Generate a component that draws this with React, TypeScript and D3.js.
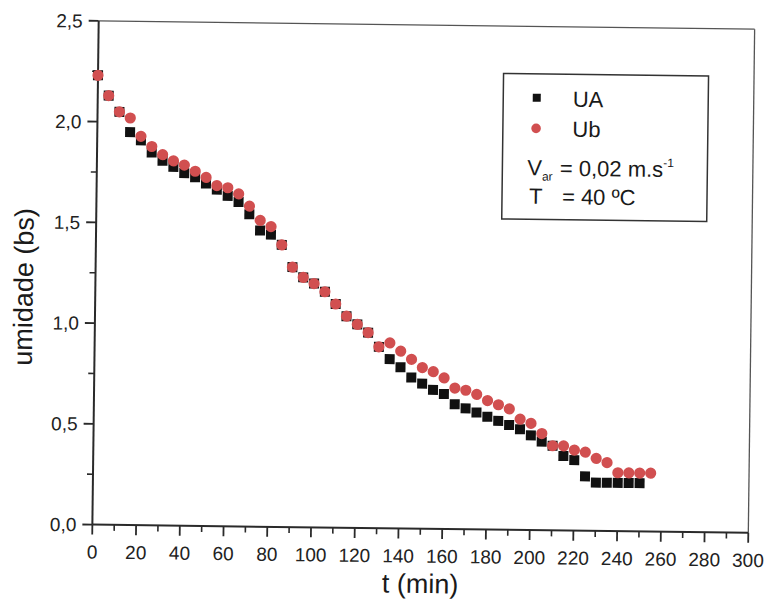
import React from "react";
import * as d3 from "d3";

const timesUA = [0,5,10,15,20,25,30,35,40,45,50,55,60,65,70,75,80,85,90,95,100,105,110,115,120,125,130,135,140,145,150,155,160,165,170,175,180,185,190,195,200,205,210,215,220,225,230,235,240,245,250];
const valuesUA = [2.23,2.13,2.05,1.95,1.91,1.85,1.81,1.78,1.75,1.73,1.70,1.67,1.64,1.61,1.55,1.47,1.45,1.40,1.29,1.24,1.21,1.17,1.11,1.05,1.01,0.97,0.90,0.84,0.80,0.75,0.72,0.69,0.67,0.62,0.60,0.58,0.56,0.54,0.52,0.50,0.47,0.44,0.42,0.37,0.35,0.27,0.24,0.24,0.24,0.24,0.24];
const timesUb = [0,5,10,15,20,25,30,35,40,45,50,55,60,65,70,75,80,85,90,95,100,105,110,115,120,125,130,135,140,145,150,155,160,165,170,175,180,185,190,195,200,205,210,215,220,225,230,235,240,245,250,255];
const valuesUb = [2.23,2.13,2.05,2.02,1.93,1.88,1.84,1.81,1.79,1.76,1.73,1.69,1.68,1.65,1.59,1.52,1.49,1.40,1.29,1.24,1.21,1.17,1.11,1.05,1.01,0.97,0.90,0.92,0.88,0.84,0.80,0.78,0.75,0.70,0.69,0.67,0.64,0.62,0.60,0.55,0.53,0.48,0.42,0.42,0.40,0.39,0.36,0.34,0.29,0.29,0.29,0.29];

const xMajorTicks = [0,20,40,60,80,100,120,140,160,180,200,220,240,260,280,300];
const xMinorTicks = [10,30,50,70,90,110,130,150,170,190,210,230,250,270,290];
const yMajorTicks = [0,0.5,1.0,1.5,2.0,2.5];
const yMinorTicks = [0.25,0.75,1.25,1.75,2.25];

const xTitle = "t (min)";
const yTitle = "umidade (bs)";
const seriesNames = ["UA", "Ub"];

const W = 769, H = 614;
const L = 95.5, R = 751.5, T = 25, B = 528.75;
const FONT = "'Liberation Sans', Arial, sans-serif";
const RED = "#d14f50";
const BLK = "#111111";
const AX = "#2a2a2a";

export default function App() {
  const x = d3.scaleLinear().domain([0, 300]).range([L, R]);
  const y = d3.scaleLinear().domain([0, 2.5]).range([B, T]);
  const loc = d3.formatLocale({ decimal: ",", thousands: ".", grouping: [3], currency: ["", ""] });
  const fy = loc.format(".1f");
  const sq = 10;
  const cr = 5.6;

  return (
    <svg width={W} height={H} style={{ position: "absolute", left: 0, top: 0, background: "#fff" }} fontFamily={FONT}>
      <rect x={0} y={0} width={W} height={H} fill="#fff" />
      <g transform={`rotate(0.72, ${(L + R) / 2}, ${(T + B) / 2})`}>
        {/* frame */}
        <line x1={L} y1={T} x2={R} y2={T} stroke="#555" strokeWidth={1.3} />
        <line x1={R} y1={T} x2={R} y2={B} stroke="#555" strokeWidth={1.3} />
        <line x1={L} y1={T} x2={L} y2={B} stroke={AX} strokeWidth={2} />
        <line x1={L} y1={B} x2={R} y2={B} stroke={AX} strokeWidth={2} />
        {/* x ticks */}
        {xMajorTicks.map((t) => (
          <g key={"xm" + t}>
            <line x1={x(t)} x2={x(t)} y1={B} y2={B + 10} stroke={AX} strokeWidth={1.8} />
            <text x={x(t)} y={B + 34} textAnchor="middle" fontSize={19} fill="#222">{t}</text>
          </g>
        ))}
        {xMinorTicks.map((t) => (
          <line key={"xn" + t} x1={x(t)} x2={x(t)} y1={B} y2={B + 6} stroke={AX} strokeWidth={1.6} />
        ))}
        {/* y ticks */}
        {yMajorTicks.map((v) => (
          <g key={"ym" + v}>
            <line x1={L - 10} x2={L} y1={y(v)} y2={y(v)} stroke={AX} strokeWidth={1.8} />
            <text x={L - 16} y={y(v)} dy="0.36em" textAnchor="end" fontSize={19} fill="#222">{fy(v)}</text>
          </g>
        ))}
        {yMinorTicks.map((v) => (
          <line key={"yn" + v} x1={L - 6} x2={L} y1={y(v)} y2={y(v)} stroke={AX} strokeWidth={1.6} />
        ))}
        {/* titles */}
        <text x={424} y={593} textAnchor="middle" fontSize={27} fill="#1a1a1a">{xTitle}</text>
        <text transform={`translate(33, 292) rotate(-90)`} textAnchor="middle" fontSize={27} fill="#1a1a1a">{yTitle}</text>
        {/* data UA squares */}
        {timesUA.map((t, i) => (
          <rect key={"a" + i} x={x(t) - sq / 2} y={y(valuesUA[i]) - sq / 2} width={sq} height={sq} fill={BLK} />
        ))}
        {/* data Ub circles */}
        {timesUb.map((t, i) => (
          <circle key={"b" + i} cx={x(t)} cy={y(valuesUb[i])} r={cr} fill={RED} />
        ))}
        {/* legend */}
        <rect x={501} y={72.5} width={205} height={145.5} fill="#fff" stroke="#333" strokeWidth={1.5} />
        <rect x={534.5 - 4} y={96.3 - 4} width={8} height={8} fill={BLK} />
        <text x={570.5} y={105} fontSize={22} fill="#1a1a1a">{seriesNames[0]}</text>
        <circle cx={534.2} cy={127} r={4.8} fill={RED} />
        <text x={570.5} y={135} fontSize={22} fill="#1a1a1a">{seriesNames[1]}</text>
        <text x={526} y={174} fontSize={22} fill="#1a1a1a">
          V<tspan fontSize={12} dy={5}>ar</tspan>
          <tspan dy={-5} dx={1}> = 0,02 m.s</tspan>
          <tspan fontSize={12} dy={-10}>-1</tspan>
        </text>
        <text x={528} y={202.5} fontSize={22} fill="#1a1a1a">
          T<tspan x={561}>= 40 ºC</tspan>
        </text>
      </g>
    </svg>
  );
}
